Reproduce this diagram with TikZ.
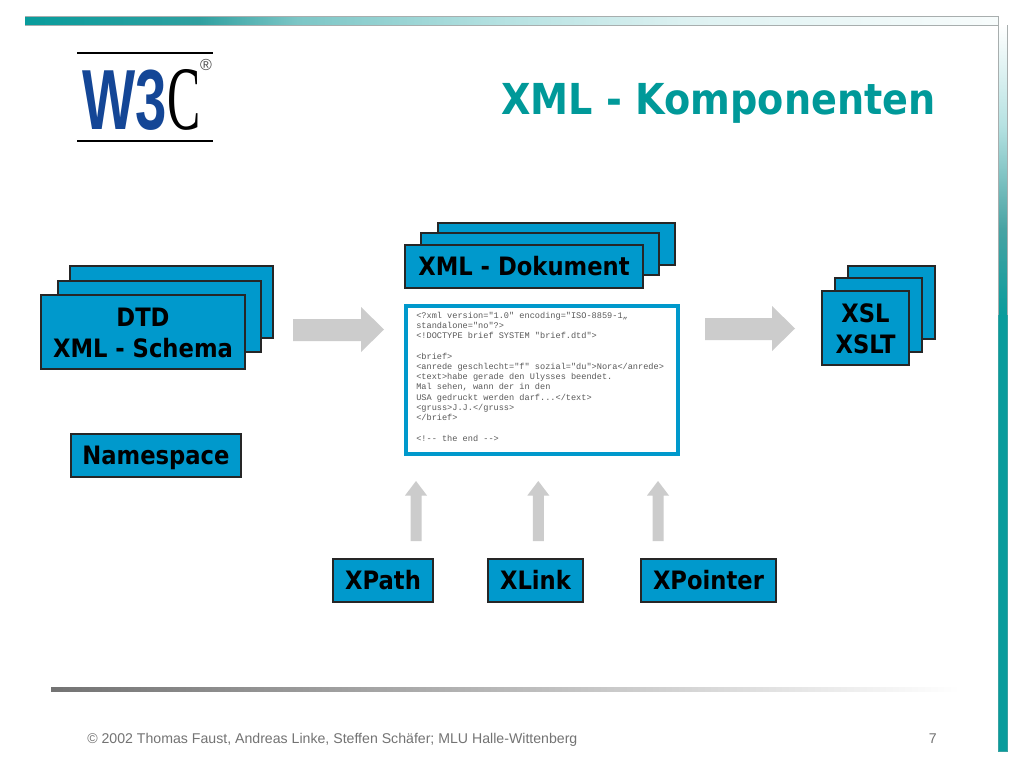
\documentclass[tikz,border=0pt]{standalone}
\usepackage{fontspec}
\usetikzlibrary{calc}
\setmainfont{Liberation Sans}
\newfontfamily\boldface[FakeStretch=0.895]{DejaVu Sans Bold}
\newfontfamily\logosans[FakeStretch=0.66]{Liberation Sans Bold}
\newfontfamily\logoserif[FakeStretch=0.55]{Liberation Serif}
\setmonofont{Liberation Mono}
\definecolor{boxblue}{HTML}{0099CC}
\definecolor{teal1}{HTML}{089C9C}
\definecolor{title}{HTML}{009999}
\definecolor{arrowgray}{HTML}{CCCCCC}
\definecolor{edge}{HTML}{A8AEAE}
\pgfdeclarehorizontalshading{topbar}{100bp}{
  color(0bp)=(teal1); color(25bp)=(teal1); color(34bp)=(teal1!75!edge); color(39bp)=(teal1!55!white!90!edge);
  color(49.5bp)=(teal1!30!white); color(59.5bp)=(teal1!13!white); color(75bp)=(teal1!3!white); color(100bp)=(teal1!3!white)}
\pgfdeclareverticalshading{sidebar}{100bp}{
  color(0bp)=(teal1); color(55bp)=(teal1); color(61bp)=(teal1!60!edge);
  color(68bp)=(teal1!30!white); color(75bp)=(white); color(100bp)=(white)}
\tikzset{
  x=0.75pt,y=-0.75pt,
  sheet/.style={draw=black!85,line width=1.1pt,fill=boxblue},
  label/.style={inner sep=0pt,font=\boldface\fontsize{19}{23.5}\selectfont,align=center,text=black},
  oneline/.style={text height=14pt,text depth=0pt},
  fatarrow/.style={fill=arrowgray,draw=none},
}
\begin{document}
\begin{tikzpicture}
\useasboundingbox (0,0) rectangle (1024,768);
\fill[white] (0,0) rectangle (1024,768);
% frame
\shade[shading=topbar] (25,16) rectangle (998,25);
\draw[edge,line width=0.7pt] (25,16) -- (998,16) -- (998,25) (25,25) -- (1007,25);
\shade[shading=sidebar] (998,25) rectangle (1007,751);
\draw[edge,line width=0.7pt] (998,315) -- (998,25) (1007,25) -- (1007,315);
\draw[teal1!70!edge,line width=0.7pt] (1007,315) -- (1007,751) -- (998,751) -- (998,315);
% logo
\draw[black,line width=0.9pt] (77,53) -- (213,53) (77,141) -- (213,141);
\node[inner sep=0pt,anchor=base west,text={rgb,255:red,20;green,70;blue,150},font=\logosans\fontsize{64}{64}\selectfont] (w3) at (82,129) {W3};
\node[inner sep=0pt,anchor=base west,text=black,font=\logoserif\fontsize{68}{68}\selectfont] (c) at (167,129) {C};
\node[inner sep=0pt,text=black!70,font=\fontsize{12}{12}\selectfont] (reg) at (206,65) {®};
% title
\node[inner sep=0pt,anchor=base east,text=title,font=\boldface\fontsize{32}{38}\selectfont] (t) at (936,114) {XML - Komponenten};
% left stack
\path[sheet] (70,266) rectangle (273,338);
\path[sheet] (58,281) rectangle (261,352);
\path[sheet] (41,295) rectangle (245,369);
\node[label] (dtd) at (143,333) {DTD\\XML - Schema};
\node[sheet,label,oneline,minimum width=127.5pt,minimum height=32pt] (ns) at (156,455.5) {Namespace};
% top stack
\path[sheet] (438,223) rectangle (675,265);
\path[sheet] (421,233) rectangle (659,275);
\path[sheet] (405,245) rectangle (643,288);
\node[label,oneline] (xd) at (524,266.5) {XML - Dokument};
% right stack
\path[sheet] (848,266) rectangle (935,339);
\path[sheet] (835,278) rectangle (922,352);
\path[sheet] (822,291) rectangle (909,365);
\node[label] (xsl) at (865.5,328.5) {XSL\\XSLT};
% document
\node[draw=boxblue,line width=3pt,fill=white,minimum width=204pt,minimum height=111pt,inner sep=0pt] (doc) at (541.5,379.5) {};
\node[inner sep=0pt,anchor=north west,align=left,text=black!65,font=\ttfamily\fontsize{6.45}{7.69}\selectfont] (code) at (416,311.5) {%
<?xml version="1.0" encoding="ISO-8859-1„\\
standalone="no"?>\\
<!DOCTYPE brief SYSTEM "brief.dtd">\\
\mbox{}\\
<brief>\\
<anrede geschlecht="f" sozial="du">Nora</anrede>\\
<text>habe gerade den Ulysses beendet.\\
Mal sehen, wann der in den\\
USA gedruckt werden darf...</text>\\
<gruss>J.J.</gruss>\\
</brief>\\
\mbox{}\\
<!-- the end -->};
% bottom boxes
\node[sheet,label,oneline,minimum width=75pt,minimum height=32pt] (xp) at (383,580.5) {XPath};
\node[sheet,label,oneline,minimum width=71pt,minimum height=32pt] (xl) at (535.5,580.5) {XLink};
\node[sheet,label,oneline,minimum width=101pt,minimum height=32pt] (xo) at (708.5,580.5) {XPointer};
% arrows
\fill[fatarrow] (293,319) -- (361,319) -- (361,307) -- (384,329.5) -- (361,352) -- (361,341) -- (293,341) -- cycle;
\fill[fatarrow] (705,318) -- (772,318) -- (772,306) -- (795,328.5) -- (772,351) -- (772,340) -- (705,340) -- cycle;
\foreach \ax in {416,538.3,658}{
  \fill[fatarrow] (\ax-5.5,541) -- (\ax-5.5,495.5) -- (\ax-11,495.5) -- (\ax,481) -- (\ax+11,495.5) -- (\ax+5.5,495.5) -- (\ax+5.5,541) -- cycle;
}
% footer
\shade[left color=black!55,right color=white] (51,687) rectangle (960,691);
\node[inner sep=0pt,anchor=base west,text=black!55,font=\fontsize{10.6}{12}\selectfont] (foot) at (87,743) {© 2002 Thomas Faust, Andreas Linke, Steffen Schäfer; MLU Halle-Wittenberg};
\node[inner sep=0pt,anchor=base east,text=black!55,font=\fontsize{10.6}{12}\selectfont] (pg) at (937,743) {7};
\end{tikzpicture}
\end{document}
